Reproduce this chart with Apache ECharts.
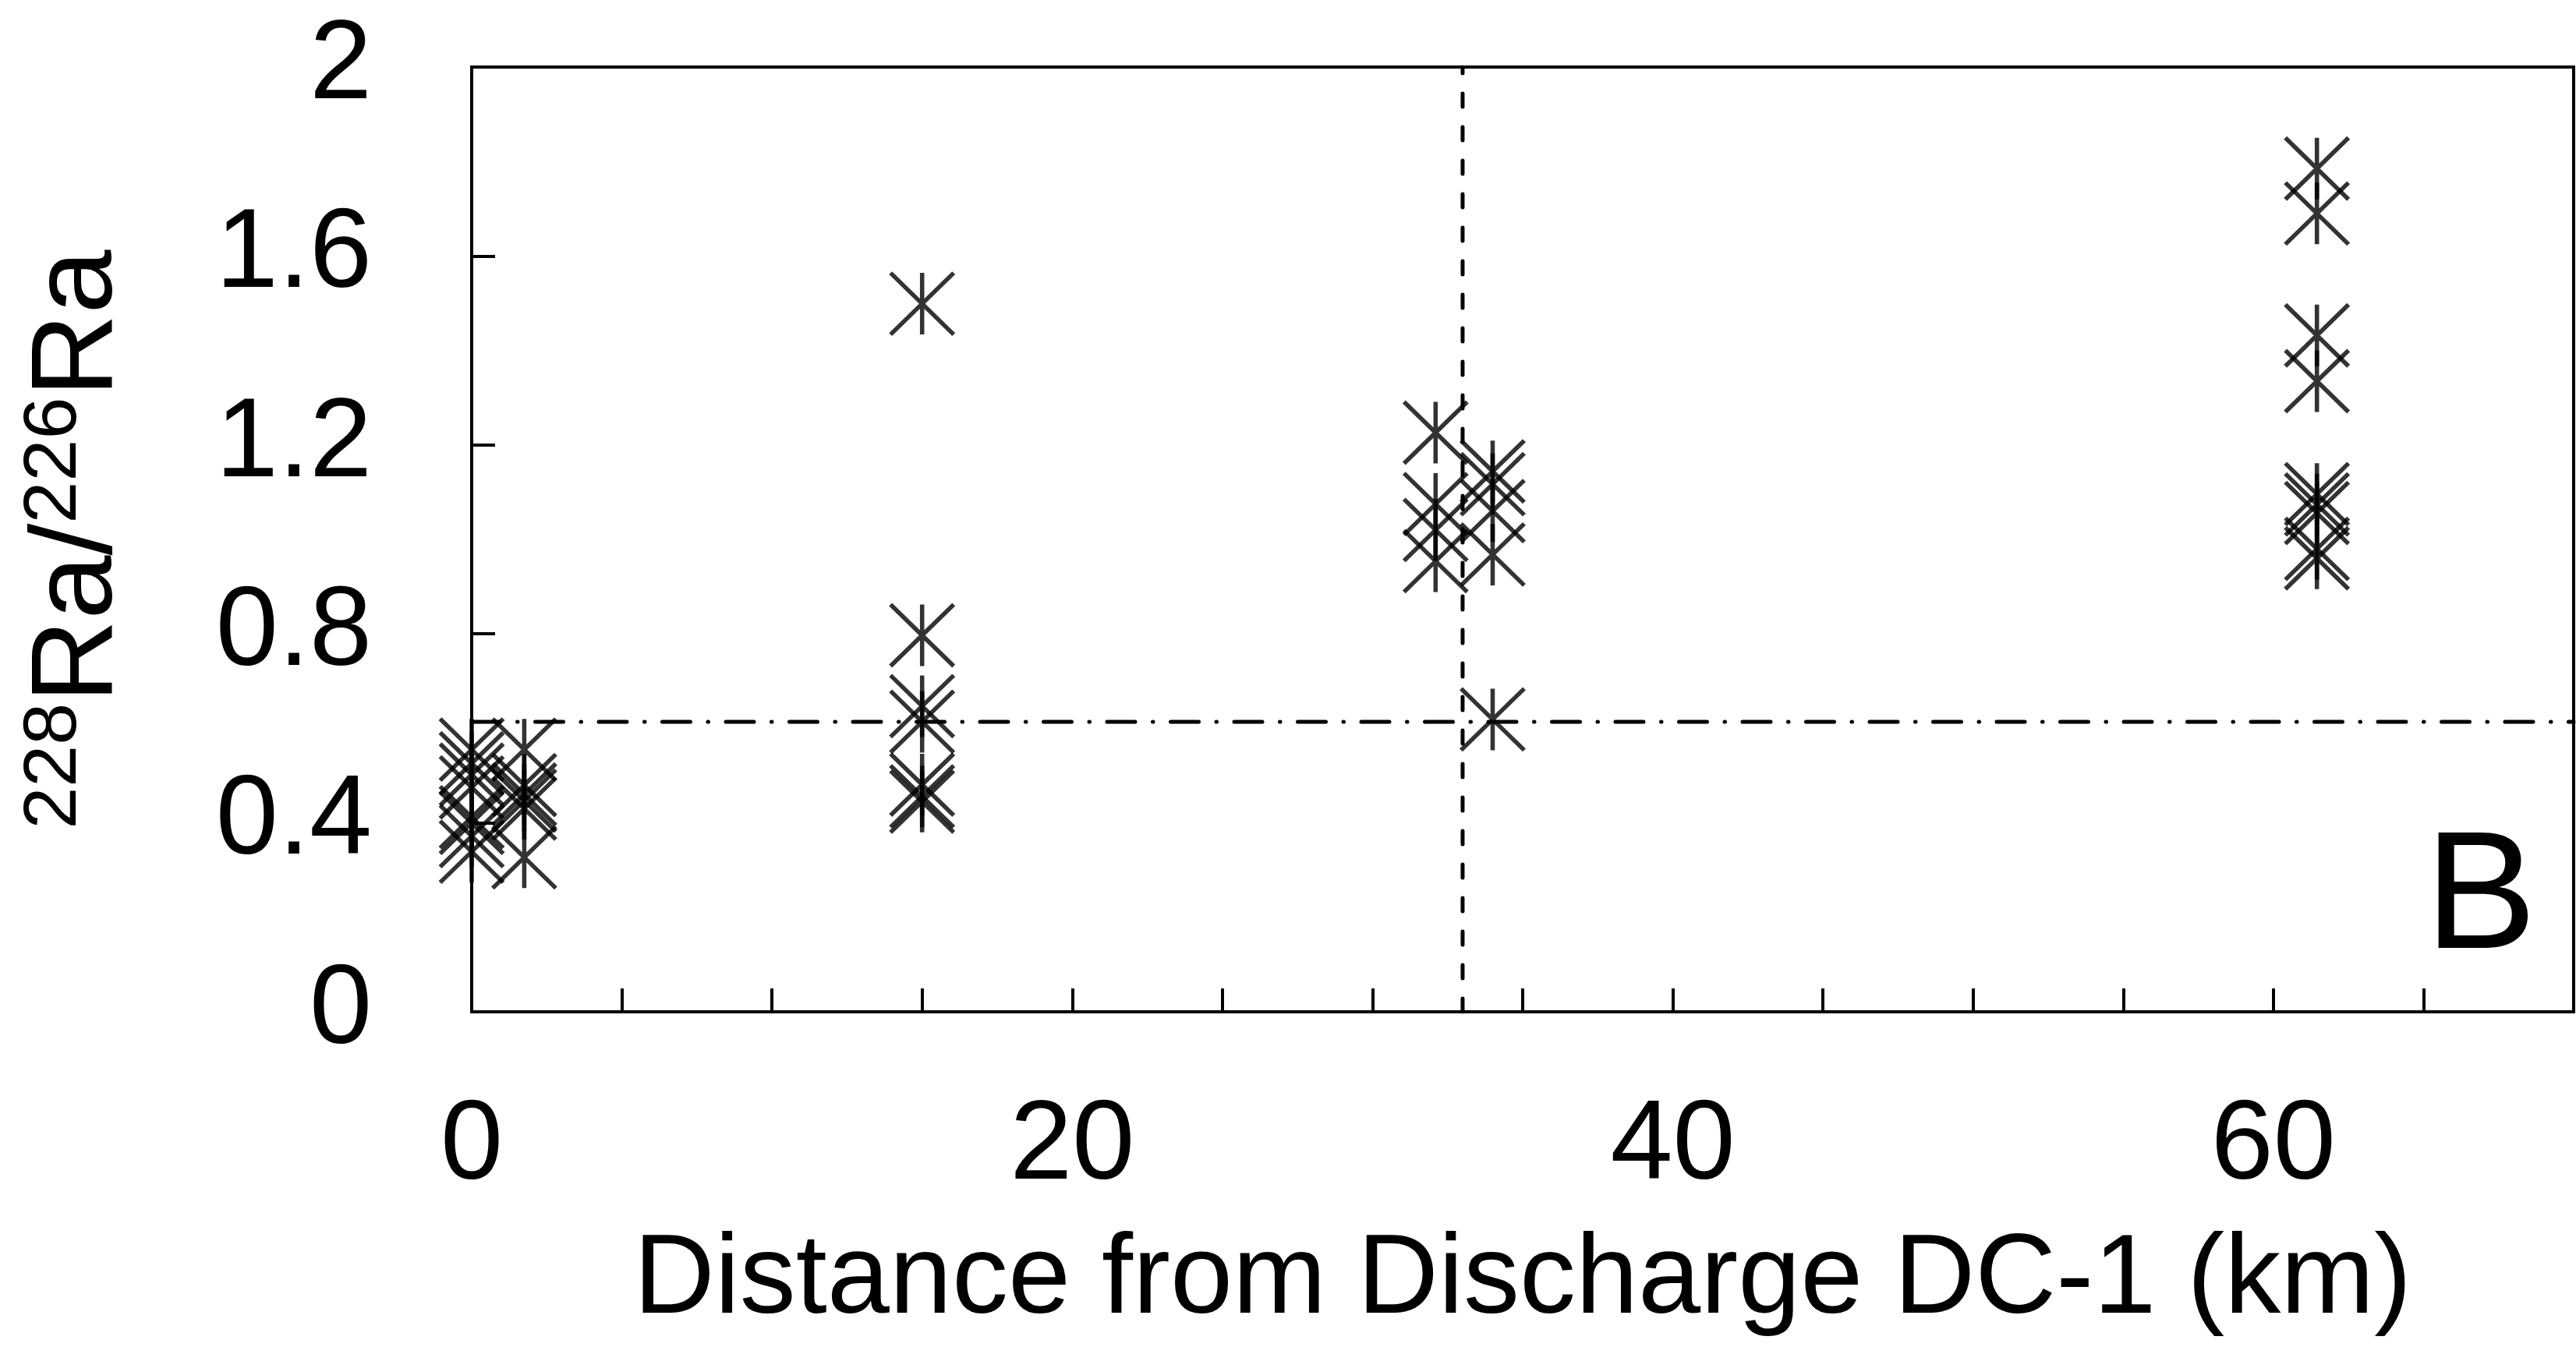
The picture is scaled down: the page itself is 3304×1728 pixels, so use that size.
<!DOCTYPE html>
<html>
<head>
<meta charset="utf-8">
<script src="https://cdn.jsdelivr.net/npm/echarts@6.0.0/dist/echarts.min.js"></script>
<style>
  html, body { margin: 0; padding: 0; background: #fff; }
  #chart { width: 3304px; height: 1728px; }
</style>
</head>
<body>
<div id="chart"></div>
<script>
// distance from discharge (km) and 228Ra/226Ra ratio, one entry per sample
const distanceKm = [
  0, 0, 0, 0, 0, 0, 0, 0,
  1.75, 1.75, 1.75, 1.75, 1.75, 1.75,
  15, 15, 15, 15, 15, 15, 15,
  32.1, 32.1, 32.1, 32.1,
  34, 34, 34, 34, 34,
  61.45, 61.45, 61.45, 61.45, 61.45, 61.45, 61.45, 61.45, 61.45
]
const raRatio = [
  0.555, 0.526, 0.502, 0.475, 0.412, 0.400, 0.372, 0.339,
  0.555, 0.480, 0.460, 0.447, 0.430, 0.327,
  1.499, 0.797, 0.647, 0.614, 0.481, 0.456, 0.445,
  1.226, 1.075, 1.020, 0.954,
  1.144, 1.117, 1.060, 0.968, 0.619,
  1.785, 1.690, 1.432, 1.335, 1.096, 1.074, 1.056, 0.980, 0.960
]
const xTicks = [0, 20, 40, 60]
const yTicks = [0, 0.4, 0.8, 1.2, 1.6, 2]
const dischargeLineKm = 33
const ratioLevel = 0.614

const font = 'Liberation Sans, Arial, sans-serif'
const asterisk = 'path://M0,0L80,78M80,0L0,78M40,0L40,78'

const chart = echarts.init(document.getElementById('chart'))

const option = {
  animation: false,
  backgroundColor: '#fff',
  grid: {
    left: 605,
    right: 2,
    top: 86,
    bottom: 430,
    show: true,
    borderColor: '#000',
    borderWidth: 4,
  },
  xAxis: {
    type: 'value',
    min: 0,
    max: 70,
    interval: 5,
    axisLine: { show: true, lineStyle: { color: '#000', width: 4 } },
    axisTick: { show: true, inside: true, length: 30, lineStyle: { color: '#000', width: 4 } },
    axisLabel: {
      formatter: (v) => (xTicks.includes(v) ? String(v) : ''),
      fontSize: 144,
      fontFamily: font,
      color: '#000',
      margin: 102,
    },
    splitLine: { show: false },
    name: 'Distance from Discharge DC-1 (km)',
    nameLocation: 'middle',
    nameGap: 274,
    nameTextStyle: { fontSize: 144, fontFamily: font, color: '#000', lineHeight: 144 },
  },
  yAxis: {
    type: 'value',
    min: 0,
    max: 2,
    interval: 0.4,
    axisLine: { show: true, lineStyle: { color: '#000', width: 4 } },
    axisTick: { show: true, inside: true, length: 30, lineStyle: { color: '#000', width: 4 } },
    axisLabel: {
      formatter: (v) => {
        const t = yTicks.find((y) => Math.abs(y - v) < 1e-6)
        return t === undefined ? '' : String(t)
      },
      fontSize: 144,
      fontFamily: font,
      color: '#000',
      margin: 128,
    },
    splitLine: { show: false },
    name: '{sup|228}Ra/{sup|226}Ra',
    nameLocation: 'middle',
    nameRotate: 90,
    nameGap: 423,
    nameTextStyle: {
      fontSize: 148,
      fontFamily: font,
      color: '#000',
      lineHeight: 160,
      rich: {
        sup: { fontSize: 97, fontFamily: font, color: '#000', lineHeight: 109, verticalAlign: 'top' },
      },
    },
  },
  series: [
    {
      type: 'line',
      data: [[dischargeLineKm, 0], [dischargeLineKm, 2]],
      showSymbol: false,
      silent: true,
      lineStyle: { color: '#000', width: 5, type: [17, 26], cap: 'round' },
      z: 1,
    },
    {
      type: 'line',
      data: [[0, ratioLevel], [70, ratioLevel]],
      showSymbol: false,
      silent: true,
      lineStyle: { color: '#000', width: 5, type: [36, 22.5, 0.5, 22.5], cap: 'round' },
      z: 1,
    },
    {
      type: 'scatter',
      data: distanceKm.map((d, i) => [d, raRatio[i]]),
      symbol: asterisk,
      symbolSize: [81, 79],
      itemStyle: { color: 'transparent', borderColor: '#000', borderWidth: 5.5 },
      z: 3,
    },
  ],
  graphic: [
    {
      type: 'text',
      x: 3110,
      y: 1157,
      style: { text: 'B', font: '215px Liberation Sans, Arial, sans-serif', fill: '#000', verticalAlign: 'middle' },
      z: 10,
    },
  ],
}

chart.setOption(option)
</script>
</body>
</html>
